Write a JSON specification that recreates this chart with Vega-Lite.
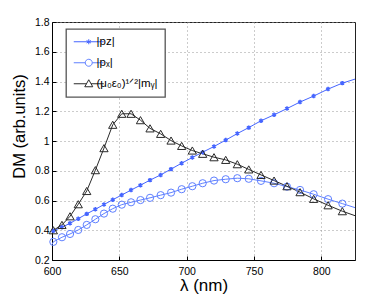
{
  "$schema": "https://vega.github.io/schema/vega-lite/v6.json",
  "width": 303,
  "height": 238,
  "autosize": {"type": "none"},
  "padding": {"left": 52, "top": 22, "right": 36, "bottom": 39},
  "background": "white",
  "config": {
    "font": "Liberation Sans",
    "view": {"stroke": "#222", "strokeWidth": 1},
    "axis": {
      "labelFont": "Liberation Sans",
      "labelFontSize": 10.5,
      "labelColor": "#000",
      "titleFont": "Liberation Sans",
      "titleColor": "#000",
      "titleFontWeight": "normal",
      "grid": true,
      "gridDash": [1, 3],
      "gridColor": "#999",
      "gridWidth": 1,
      "domainColor": "#000",
      "tickColor": "#000",
      "tickSize": -4
    },
    "legend": {
      "orient": "none",
      "legendX": 14,
      "legendY": 7,
      "padding": 7,
      "strokeColor": "#555",
      "strokeWidth": 1.3,
      "fillColor": "white",
      "cornerRadius": 0,
      "labelFont": "Liberation Sans",
      "labelFontSize": 11.5,
      "labelColor": "#000",
      "labelOffset": 12,
      "symbolSize": 100,
      "symbolStrokeWidth": 1,
      "rowPadding": 8
    }
  },
  "data": {
    "values": [
      {"series": "pz", "lambda": 600, "dm": 0.39},
      {"series": "pz", "lambda": 601, "dm": 0.397},
      {"series": "pz", "lambda": 607.4, "dm": 0.42},
      {"series": "pz", "lambda": 613.4, "dm": 0.447},
      {"series": "pz", "lambda": 619.5, "dm": 0.478},
      {"series": "pz", "lambda": 625.8, "dm": 0.51},
      {"series": "pz", "lambda": 632.2, "dm": 0.541},
      {"series": "pz", "lambda": 638.6, "dm": 0.573},
      {"series": "pz", "lambda": 645.1, "dm": 0.605},
      {"series": "pz", "lambda": 651.8, "dm": 0.637},
      {"series": "pz", "lambda": 658.7, "dm": 0.67},
      {"series": "pz", "lambda": 665.7, "dm": 0.703},
      {"series": "pz", "lambda": 672.8, "dm": 0.737},
      {"series": "pz", "lambda": 680.7, "dm": 0.772},
      {"series": "pz", "lambda": 688.4, "dm": 0.811},
      {"series": "pz", "lambda": 696.3, "dm": 0.851},
      {"series": "pz", "lambda": 704.2, "dm": 0.889},
      {"series": "pz", "lambda": 711.9, "dm": 0.925},
      {"series": "pz", "lambda": 720.3, "dm": 0.963},
      {"series": "pz", "lambda": 729, "dm": 1.006},
      {"series": "pz", "lambda": 737.6, "dm": 1.05},
      {"series": "pz", "lambda": 746.1, "dm": 1.09},
      {"series": "pz", "lambda": 755.2, "dm": 1.136},
      {"series": "pz", "lambda": 764.9, "dm": 1.176},
      {"series": "pz", "lambda": 774.5, "dm": 1.218},
      {"series": "pz", "lambda": 784.2, "dm": 1.262},
      {"series": "pz", "lambda": 794.3, "dm": 1.302},
      {"series": "pz", "lambda": 805, "dm": 1.349},
      {"series": "pz", "lambda": 815.6, "dm": 1.389},
      {"series": "pz", "lambda": 825, "dm": 1.416},
      {"series": "px", "lambda": 600, "dm": 0.305},
      {"series": "px", "lambda": 601, "dm": 0.322},
      {"series": "px", "lambda": 607.4, "dm": 0.353},
      {"series": "px", "lambda": 613.4, "dm": 0.375},
      {"series": "px", "lambda": 619.5, "dm": 0.402},
      {"series": "px", "lambda": 625.8, "dm": 0.436},
      {"series": "px", "lambda": 632.2, "dm": 0.474},
      {"series": "px", "lambda": 638.6, "dm": 0.512},
      {"series": "px", "lambda": 645.1, "dm": 0.545},
      {"series": "px", "lambda": 651.8, "dm": 0.572},
      {"series": "px", "lambda": 658.7, "dm": 0.588},
      {"series": "px", "lambda": 665.7, "dm": 0.603},
      {"series": "px", "lambda": 672.8, "dm": 0.618},
      {"series": "px", "lambda": 680.7, "dm": 0.636},
      {"series": "px", "lambda": 688.4, "dm": 0.653},
      {"series": "px", "lambda": 696.3, "dm": 0.676},
      {"series": "px", "lambda": 704.2, "dm": 0.696},
      {"series": "px", "lambda": 711.9, "dm": 0.716},
      {"series": "px", "lambda": 720.3, "dm": 0.734},
      {"series": "px", "lambda": 729, "dm": 0.743},
      {"series": "px", "lambda": 737.6, "dm": 0.75},
      {"series": "px", "lambda": 746.1, "dm": 0.746},
      {"series": "px", "lambda": 755.2, "dm": 0.732},
      {"series": "px", "lambda": 764.9, "dm": 0.716},
      {"series": "px", "lambda": 774.5, "dm": 0.693},
      {"series": "px", "lambda": 784.2, "dm": 0.671},
      {"series": "px", "lambda": 794.3, "dm": 0.642},
      {"series": "px", "lambda": 805, "dm": 0.609},
      {"series": "px", "lambda": 815.6, "dm": 0.579},
      {"series": "px", "lambda": 825, "dm": 0.552},
      {"series": "my", "lambda": 600, "dm": 0.385},
      {"series": "my", "lambda": 601, "dm": 0.4},
      {"series": "my", "lambda": 607.4, "dm": 0.436},
      {"series": "my", "lambda": 613.4, "dm": 0.494},
      {"series": "my", "lambda": 619.5, "dm": 0.575},
      {"series": "my", "lambda": 625.8, "dm": 0.664},
      {"series": "my", "lambda": 632.2, "dm": 0.804},
      {"series": "my", "lambda": 638.6, "dm": 0.952},
      {"series": "my", "lambda": 645.1, "dm": 1.109},
      {"series": "my", "lambda": 651.8, "dm": 1.183},
      {"series": "my", "lambda": 658.7, "dm": 1.183},
      {"series": "my", "lambda": 665.7, "dm": 1.14},
      {"series": "my", "lambda": 672.8, "dm": 1.085},
      {"series": "my", "lambda": 680.7, "dm": 1.048},
      {"series": "my", "lambda": 688.4, "dm": 1.003},
      {"series": "my", "lambda": 696.3, "dm": 0.967},
      {"series": "my", "lambda": 704.2, "dm": 0.936},
      {"series": "my", "lambda": 711.9, "dm": 0.914},
      {"series": "my", "lambda": 720.3, "dm": 0.891},
      {"series": "my", "lambda": 729, "dm": 0.873},
      {"series": "my", "lambda": 737.6, "dm": 0.844},
      {"series": "my", "lambda": 746.1, "dm": 0.809},
      {"series": "my", "lambda": 755.2, "dm": 0.772},
      {"series": "my", "lambda": 764.9, "dm": 0.734},
      {"series": "my", "lambda": 774.5, "dm": 0.696},
      {"series": "my", "lambda": 784.2, "dm": 0.656},
      {"series": "my", "lambda": 794.3, "dm": 0.611},
      {"series": "my", "lambda": 805, "dm": 0.568},
      {"series": "my", "lambda": 815.6, "dm": 0.528},
      {"series": "my", "lambda": 825, "dm": 0.498}
    ]
  },
  "encoding": {
    "x": {
      "field": "lambda",
      "type": "quantitative",
      "scale": {"domain": [600, 825], "nice": false, "zero": false},
      "axis": {
        "values": [600, 650, 700, 750, 800],
        "format": "d",
        "title": "λ (nm)",
        "titleFontSize": 17,
        "titleY": 30.5,
        "titleBaseline": "alphabetic",
        "labelPadding": 10.5,
        "labelFlush": false
      }
    },
    "y": {
      "field": "dm",
      "type": "quantitative",
      "scale": {"domain": [0.2, 1.8], "nice": false, "zero": false},
      "axis": {
        "values": [0.2, 0.4, 0.6, 0.8, 1, 1.2, 1.4, 1.6, 1.8],
        "format": "~g",
        "title": "DM (arb.units)",
        "titleFontSize": 16.5,
        "titleX": -32.5,
        "titleY": 104,
        "titleAngle": 270,
        "titleAlign": "center",
        "titleBaseline": "middle",
        "labelPadding": 7,
        "labelFlush": false
      }
    },
    "color": {
      "field": "series",
      "type": "nominal",
      "scale": {"domain": ["pz", "px", "my"], "range": ["#4565ff", "#5f80ff", "#2a2a2a"]},
      "legend": {
        "title": null,
        "labelExpr": "datum.value === 'pz' ? '|pᴢ|' : datum.value === 'px' ? '|pₓ|' : '(μ₀ε₀)¹ᐟ²|mᵧ|'"
      }
    }
  },
  "layer": [
    {"mark": {"type": "line", "strokeWidth": 1, "clip": true}},
    {
      "transform": [{"filter": "datum.series === 'pz' && datum.lambda > 600.5 && datum.lambda < 824"}],
      "mark": {"type": "point", "shape": "M0,-1V1M-0.87,-0.5L0.87,0.5M-0.87,0.5L0.87,-0.5", "size": 20, "filled": false, "strokeWidth": 1.5, "opacity": 1}
    },
    {
      "transform": [{"filter": "datum.series === 'px' && datum.lambda > 600.5 && datum.lambda < 824"}],
      "mark": {"type": "point", "shape": "circle", "size": 52, "filled": false, "strokeWidth": 1, "opacity": 1}
    },
    {
      "transform": [{"filter": "datum.series === 'my' && datum.lambda > 600.5 && datum.lambda < 824"}],
      "mark": {"type": "point", "shape": "triangle-up", "size": 68, "filled": false, "strokeWidth": 1, "opacity": 1}
    },
    {
      "transform": [{"filter": "datum.lambda < 0"}],
      "mark": {"type": "point", "filled": false, "strokeWidth": 1, "opacity": 1},
      "encoding": {
        "shape": {
          "field": "series",
          "type": "nominal",
          "scale": {
            "domain": ["pz", "px", "my"],
            "range": [
              "M-1,0H5M2,-0.5V0.5M1.567,-0.25L2.433,0.25M1.567,0.25L2.433,-0.25",
              "M-1,0H1.3M2.7,0H5M1.3,0A0.7,0.7,0,1,1,2.7,0A0.7,0.7,0,1,1,1.3,0",
              "M-1,0H1.543M2.457,0H5M1.2,0.6L2,-0.8L2.8,0.6Z"
            ]
          },
          "legend": {
            "title": null,
            "labelExpr": "datum.value === 'pz' ? '|pᴢ|' : datum.value === 'px' ? '|pₓ|' : '(μ₀ε₀)¹ᐟ²|mᵧ|'"
          }
        }
      }
    }
  ]
}
